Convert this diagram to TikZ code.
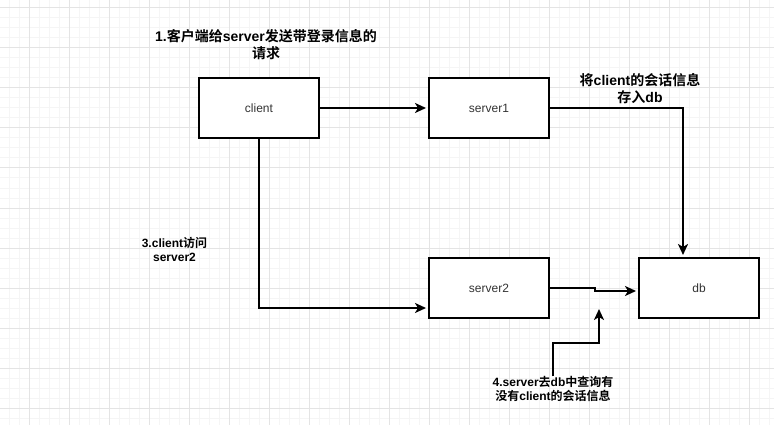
\documentclass[tikz,border=0pt]{standalone}
\usepackage{fontspec}
\setmainfont{Liberation Sans}
\newfontfamily\cjk{Noto Sans CJK SC}[BoldFont={Noto Sans CJK SC Bold}]
\newcommand{\zh}[1]{{\cjk #1}}
\usetikzlibrary{arrows.meta}
\definecolor{gridminor}{RGB}{245,245,245}
\definecolor{gridmajor}{RGB}{228,228,228}
\definecolor{boxtext}{RGB}{51,51,51}
\tikzset{
  box/.style={draw=black, line width=2pt, minimum width=120pt, minimum height=60pt, inner sep=0pt,
    font=\fontsize{12}{14}\selectfont, text=boxtext},
  conn/.style={line width=2pt, -{Stealth[length=11pt,width=10pt,inset=3pt]}, shorten >=2pt},
  lbl/.style={align=center, inner sep=0pt, font=\bfseries\fontsize{14}{17}\selectfont},
  lbls/.style={align=center, inner sep=0pt, font=\bfseries\fontsize{12}{13.5}\selectfont},
}
\begin{document}
\begin{tikzpicture}[x=1pt,y=-1pt]
\useasboundingbox (0,0) rectangle (774,425);
\fill[white] (0,0) rectangle (774,425);
% grid
\foreach \gx in {9,19,...,769} \draw[gridminor, line width=1pt] (\gx,0) -- (\gx,425);
\foreach \gy in {8,18,...,418} \draw[gridminor, line width=1pt] (0,\gy) -- (774,\gy);
\foreach \gx in {29,69,...,769} \draw[gridmajor, line width=1pt] (\gx,0) -- (\gx,425);
\foreach \gy in {8,48,...,408} \draw[gridmajor, line width=1pt] (0,\gy) -- (774,\gy);
% boxes
\node[box, fill=white] (client) at (259,108) {client};
\node[box, fill=white] (server1) at (489,108) {server1};
\node[box, fill=white] (server2) at (489,288) {server2};
\node[box, fill=white] (db) at (699,288) {db};
% labels
\node[lbl] (l1) at (266,44.5) {1.\zh{客户端给}server\zh{发送带登录信息的}\\\zh{请求}};
\node[lbl] (l2) at (640,88.5) {\zh{将}client\zh{的会话信息}\\\zh{存入}db};
\node[lbls] (l3) at (174.5,249.5) {3.client\zh{访问}\\server2};
\node[lbls] (l4) at (553,389) {4.server\zh{去}db\zh{中查询有}\\\zh{没有}client\zh{的会话信息}};
% connectors
\coordinate (q) at (599,309);
\draw[conn] (client.east) -- (server1.west);
\draw[conn] (server1.east) -| ([xshift=-16pt]db.north);
\draw[conn] (client.south) |- ([yshift=-20pt]server2.west);
\draw[conn] (server2.east) -- ++(45,0) -- ++(0,3) -- ([yshift=-3pt]db.west);
\draw[line width=2pt, -{Stealth[length=11pt,width=10pt,inset=3pt]}] (l4.north) -- (553,343) -| (q);
\end{tikzpicture}
\end{document}
